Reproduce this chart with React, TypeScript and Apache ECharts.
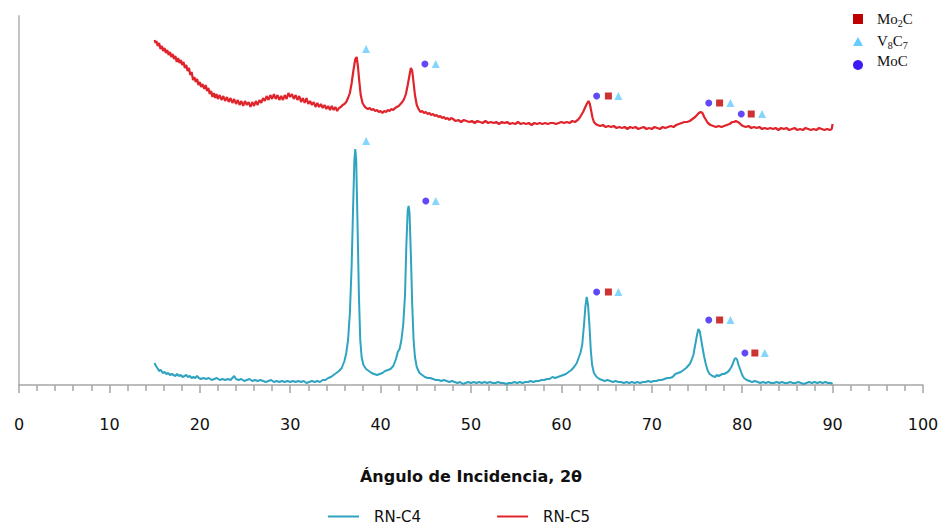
import React, { useEffect, useRef } from "react";
import * as echarts from "echarts";

const xTicks = [0, 10, 20, 30, 40, 50, 60, 70, 80, 90, 100];

const c4Data: [number, number][] = [
  [15.0,22],[15.15,19],[15.3,17],[15.5,14],[15.7,15],[15.9,12],[16.1,13],[16.3,11],[16.5,12],[16.7,10],[16.9,11],[17.1,10],[17.3,9],[17.5,11],[17.7,9],[17.9,10],[18.1,8],[18.3,9],[18.5,10],[18.7,8],[18.9,9],[19.1,7],[19.3,8],[19.5,7],[19.7,9],[19.9,7],[20.1,6],[20.4,7],[20.7,6],[21.0,7],[21.3,5],[21.6,6],[21.9,7],[22.2,5],[22.5,6],[22.8,5],[23.1,6],[23.4,5],[23.6,7],[23.8,9],[24.0,6],[24.3,5],[24.6,6],[24.9,4],[25.2,5],[25.5,6],[25.8,4],[26.1,5],[26.4,4],[26.7,5],[27.0,4],[27.3,3],[27.6,4],[27.9,5],[28.2,3],[28.5,4],[28.8,3],[29.1,4],[29.4,3],[29.7,4],[30.0,3],[30.3,4],[30.6,3],[30.9,4],[31.2,3],[31.5,4],[31.8,2],[32.1,3],[32.4,4],[32.7,3],[33.0,4],[33.3,3],[33.6,5],[33.9,5],[34.2,7],[34.5,8],[34.8,10],[35.1,12],[35.4,14],[35.7,17],[36.0,24],[36.2,32],[36.4,45],[36.6,72],[36.8,120],[36.95,175],[37.1,225],[37.2,236],[37.3,225],[37.45,160],[37.6,90],[37.75,45],[37.9,28],[38.1,20],[38.4,16],[38.7,14],[39.0,12],[39.3,11],[39.6,10],[39.9,11],[40.2,12],[40.5,14],[40.8,15],[41.1,16],[41.4,19],[41.7,26],[41.9,33],[42.1,36],[42.3,45],[42.5,60],[42.7,90],[42.85,140],[43.0,175],[43.1,179],[43.2,172],[43.35,130],[43.5,80],[43.65,45],[43.8,28],[44.0,18],[44.3,12],[44.6,10],[44.9,8],[45.2,7],[45.5,7],[45.8,6],[46.1,5],[46.4,5],[46.7,4],[47.0,5],[47.3,4],[47.6,3],[47.9,4],[48.2,3],[48.5,2],[48.8,3],[49.1,1],[49.4,2],[49.7,3],[50.0,2],[50.3,3],[50.6,2],[50.9,3],[51.2,2],[51.5,3],[51.8,2],[52.1,3],[52.4,2],[52.7,2],[53.0,3],[53.3,2],[53.6,2],[53.9,1],[54.2,2],[54.5,2],[54.8,3],[55.1,2],[55.4,3],[55.7,2],[56.0,3],[56.3,3],[56.6,4],[56.9,3],[57.2,4],[57.5,4],[57.8,5],[58.1,5],[58.4,6],[58.7,6],[59.0,8],[59.3,7],[59.6,8],[59.9,9],[60.2,10],[60.5,11],[60.8,13],[61.1,15],[61.4,18],[61.7,22],[61.9,27],[62.1,32],[62.3,40],[62.5,60],[62.65,78],[62.8,88],[62.95,80],[63.1,60],[63.25,35],[63.4,20],[63.6,12],[63.9,8],[64.2,6],[64.5,5],[64.8,4],[65.1,5],[65.4,4],[65.7,3],[66.0,4],[66.3,3],[66.6,3],[66.9,2],[67.2,3],[67.5,2],[67.8,3],[68.1,2],[68.4,3],[68.7,2],[69.0,3],[69.3,3],[69.6,4],[69.9,3],[70.2,4],[70.5,4],[70.8,5],[71.1,5],[71.4,6],[71.7,7],[72.0,7],[72.3,8],[72.6,11],[72.9,12],[73.2,13],[73.5,15],[73.8,17],[74.0,19],[74.2,21],[74.4,25],[74.6,30],[74.8,40],[75.0,50],[75.15,56],[75.3,54],[75.45,46],[75.6,38],[75.8,28],[76.0,20],[76.2,14],[76.4,11],[76.7,9],[77.0,8],[77.2,10],[77.4,9],[77.6,10],[77.8,11],[78.0,11],[78.2,12],[78.4,13],[78.6,15],[78.8,18],[79.0,22],[79.15,26],[79.3,27],[79.45,25],[79.6,20],[79.8,15],[80.0,10],[80.2,7],[80.5,5],[80.8,4],[81.1,3],[81.4,4],[81.7,3],[82.0,2],[82.3,3],[82.6,2],[82.9,3],[83.2,2],[83.5,2],[83.8,3],[84.1,2],[84.4,3],[84.7,2],[85.0,2],[85.3,3],[85.6,2],[85.9,2],[86.2,3],[86.5,2],[86.8,1],[87.1,2],[87.4,3],[87.7,2],[88.0,3],[88.3,2],[88.6,3],[88.9,2],[89.2,3],[89.5,2],[89.8,2],[90.0,1]
];

const c5Data: [number, number][] = [
  [15.0,345],[15.1,342],[15.2,344],[15.35,339],[15.5,342],[15.65,336],[15.8,339],[15.95,334],[16.1,337],[16.25,332],[16.4,335],[16.55,330],[16.7,333],[16.85,328],[17.0,331],[17.15,326],[17.3,329],[17.45,323],[17.6,327],[17.75,322],[17.9,325],[18.05,320],[18.2,323],[18.35,317],[18.5,320],[18.65,314],[18.8,317],[18.95,310],[19.1,313],[19.25,305],[19.4,308],[19.55,303],[19.7,306],[19.85,300],[20.0,303],[20.15,298],[20.3,301],[20.5,296],[20.65,300],[20.8,294],[20.95,297],[21.1,291],[21.25,294],[21.4,288],[21.55,292],[21.7,287],[21.85,291],[22.0,286],[22.2,290],[22.4,285],[22.6,289],[22.8,284],[23.0,288],[23.2,283],[23.4,287],[23.6,282],[23.8,286],[24.0,281],[24.2,285],[24.4,280],[24.6,284],[24.8,279],[25.0,284],[25.2,280],[25.4,283],[25.6,278],[25.8,283],[26.0,279],[26.2,284],[26.4,280],[26.6,285],[26.8,282],[27.0,287],[27.2,284],[27.4,289],[27.6,285],[27.8,290],[28.0,286],[28.2,291],[28.4,286],[28.6,290],[28.8,285],[29.0,289],[29.2,285],[29.4,290],[29.6,286],[29.8,292],[30.0,288],[30.2,291],[30.4,286],[30.6,290],[30.8,285],[31.0,289],[31.2,283],[31.4,287],[31.6,282],[31.8,287],[32.0,281],[32.2,284],[32.4,280],[32.6,283],[32.8,278],[33.0,282],[33.2,278],[33.4,281],[33.6,277],[33.8,280],[34.0,276],[34.2,279],[34.4,275],[34.6,279],[34.8,275],[35.0,278],[35.2,274],[35.4,277],[35.6,278],[35.8,280],[36.0,281],[36.2,283],[36.4,287],[36.6,292],[36.8,302],[37.0,315],[37.2,326],[37.35,328],[37.5,318],[37.65,303],[37.8,290],[38.0,282],[38.2,279],[38.4,277],[38.6,276],[38.8,277],[39.0,275],[39.2,276],[39.4,274],[39.6,275],[39.8,273],[40.0,274],[40.2,272],[40.4,274],[40.6,273],[40.8,275],[41.0,274],[41.2,276],[41.4,275],[41.6,277],[41.8,278],[42.0,279],[42.2,281],[42.4,283],[42.6,286],[42.8,291],[43.0,300],[43.2,310],[43.35,317],[43.5,314],[43.65,302],[43.8,290],[44.0,280],[44.2,276],[44.4,273],[44.6,274],[44.8,272],[45.0,273],[45.2,271],[45.4,272],[45.6,270],[45.8,271],[46.0,269],[46.2,270],[46.4,268],[46.6,269],[46.8,267],[47.0,268],[47.2,266],[47.4,267],[47.6,265],[47.8,267],[48.0,266],[48.3,264],[48.6,265],[48.9,263],[49.2,265],[49.5,264],[49.8,263],[50.1,264],[50.4,262],[50.7,264],[51.0,263],[51.3,262],[51.6,264],[51.9,262],[52.2,263],[52.5,262],[52.8,263],[53.1,261],[53.4,263],[53.7,262],[54.0,263],[54.3,261],[54.6,262],[54.9,261],[55.2,263],[55.5,261],[55.8,262],[56.1,261],[56.4,262],[56.7,260],[57.0,262],[57.3,261],[57.6,262],[57.9,261],[58.2,262],[58.5,261],[58.8,262],[59.1,262],[59.4,261],[59.7,262],[60.0,263],[60.3,262],[60.6,263],[60.9,262],[61.2,264],[61.5,263],[61.8,265],[62.0,267],[62.2,270],[62.4,273],[62.6,277],[62.8,281],[63.0,284],[63.15,281],[63.3,274],[63.45,267],[63.6,263],[63.8,261],[64.0,260],[64.3,259],[64.6,260],[64.9,258],[65.2,259],[65.5,258],[65.8,259],[66.1,257],[66.4,258],[66.7,257],[67.0,258],[67.3,256],[67.6,258],[67.9,257],[68.2,258],[68.5,256],[68.8,257],[69.1,258],[69.4,256],[69.7,257],[70.0,256],[70.3,258],[70.6,257],[70.9,256],[71.2,258],[71.5,257],[71.8,258],[72.1,259],[72.4,258],[72.7,260],[73.0,261],[73.3,262],[73.6,263],[73.9,263],[74.2,264],[74.5,266],[74.8,268],[75.0,270],[75.2,272],[75.4,273],[75.6,272],[75.8,268],[76.0,265],[76.2,262],[76.5,260],[76.8,259],[77.1,258],[77.4,259],[77.7,258],[78.0,259],[78.3,260],[78.6,261],[78.9,263],[79.1,263],[79.3,264],[79.5,263],[79.7,262],[79.9,260],[80.1,259],[80.4,258],[80.7,259],[81.0,257],[81.3,258],[81.6,257],[81.9,258],[82.2,256],[82.5,257],[82.8,256],[83.1,257],[83.4,256],[83.7,257],[84.0,255],[84.3,257],[84.6,256],[84.9,257],[85.2,255],[85.5,256],[85.8,257],[86.1,255],[86.4,256],[86.7,255],[87.0,257],[87.3,256],[87.6,255],[87.9,256],[88.2,255],[88.5,257],[88.8,256],[89.1,255],[89.4,256],[89.7,255],[89.9,256],[90.0,261]
];

const mocPoints: [number, number][] = [
  [44.9,321],[63.9,289],[76.3,282],[79.9,271],[45.0,184],[63.9,93],[76.3,65],[80.3,32]
];
const mo2cPoints: [number, number][] = [
  [65.2,289],[77.5,282],[81.0,271],[65.2,93],[77.5,65],[81.4,32]
];
const v8c7Points: [number, number][] = [
  [38.4,336],[46.1,321],[66.3,289],[78.7,282],[82.2,271],[38.4,244],[46.1,184],[66.3,93],[78.7,65],[82.5,32]
];

const seriesNames = ["RN-C4", "RN-C5"];
const xAxisTitle = "Ángulo de Incidencia, 2θ";

const TEAL = "#2fa4c0";
const RED = "#e0242c";
const SQ = "#c00000";
const TRI = "#66ccff";
const CIRC = "#3b1cf5";

export default function App() {
  const ref = useRef<HTMLDivElement>(null);
  useEffect(() => {
    if (!ref.current) return;
    const chart = echarts.init(ref.current, null, { renderer: "svg" });
    const sansFont = "DejaVu Sans";
    const serif = "Liberation Serif";
    chart.setOption({
      animation: false,
      backgroundColor: "#ffffff",
      grid: { left: 19, right: 19, top: 16, bottom: 140, containLabel: false },
      xAxis: {
        type: "value",
        min: xTicks[0],
        max: xTicks[xTicks.length - 1],
        interval: 10,
        name: xAxisTitle,
        nameLocation: "middle",
        nameGap: 83,
        nameTextStyle: { fontFamily: sansFont, fontWeight: "bold", fontSize: 16, color: "#111" },
        axisLine: { lineStyle: { color: "#a6a6a6", width: 1.5 } },
        axisTick: { show: true, length: 8, lineStyle: { color: "#a6a6a6", width: 1.5 } },
        minorTick: { show: true, splitNumber: 5, length: 6, lineStyle: { color: "#a6a6a6", width: 1.5 } },
        axisLabel: { margin: 31, fontFamily: sansFont, fontSize: 16, color: "#111" },
        splitLine: { show: false },
      },
      yAxis: {
        type: "value",
        min: 0,
        max: 369,
        axisLine: { show: true, lineStyle: { color: "#c4c4c4", width: 2 } },
        axisTick: { show: false },
        axisLabel: { show: false },
        splitLine: { show: false },
      },
      legend: {
        data: seriesNames,
        left: 328,
        top: 509,
        padding: 0,
        icon: "rect",
        itemWidth: 31,
        itemHeight: 2,
        itemGap: 76,
        textStyle: { fontFamily: sansFont, fontSize: 15, color: "#111", padding: [0, 0, 0, 10] },
      },
      series: [
        {
          name: seriesNames[0],
          type: "line",
          data: c4Data,
          showSymbol: false,
          symbol: "none",
          lineStyle: { color: TEAL, width: 2 },
          itemStyle: { color: TEAL },
          z: 2,
        },
        {
          name: seriesNames[1],
          type: "line",
          data: c5Data,
          showSymbol: false,
          symbol: "none",
          lineStyle: { color: RED, width: 2.2 },
          itemStyle: { color: RED },
          z: 2,
        },
        {
          name: "MoC",
          type: "scatter",
          data: mocPoints,
          symbol: "circle",
          symbolSize: 7,
          itemStyle: { color: CIRC },
          z: 3,
        },
        {
          name: "Mo2C",
          type: "scatter",
          data: mo2cPoints,
          symbol: "rect",
          symbolSize: 7,
          itemStyle: { color: SQ },
          z: 3,
        },
        {
          name: "V8C7",
          type: "scatter",
          data: v8c7Points,
          symbol: "triangle",
          symbolSize: 8,
          itemStyle: { color: TRI },
          z: 3,
        },
      ],
      graphic: [
        { type: "rect", shape: { x: 853, y: 14, width: 10, height: 10 }, style: { fill: SQ } },
        { type: "polygon", shape: { points: [[858, 37], [863, 46], [853, 46]] }, style: { fill: TRI } },
        { type: "circle", shape: { cx: 858, cy: 65, r: 5 }, style: { fill: CIRC } },
        {
          type: "text",
          x: 877,
          y: 19,
          style: {
            text: "{a|Mo}{s|2}{a|C}",
            verticalAlign: "middle",
            rich: {
              a: { fontFamily: serif, fontSize: 15, lineHeight: 18, fill: "#111" },
              s: { fontFamily: serif, fontSize: 10, lineHeight: 10, verticalAlign: "bottom", fill: "#111" },
            },
          },
        },
        {
          type: "text",
          x: 877,
          y: 41,
          style: {
            text: "{a|V}{s|8}{a|C}{s|7}",
            verticalAlign: "middle",
            rich: {
              a: { fontFamily: serif, fontSize: 15, lineHeight: 18, fill: "#111" },
              s: { fontFamily: serif, fontSize: 10, lineHeight: 10, verticalAlign: "bottom", fill: "#111" },
            },
          },
        },
        {
          type: "text",
          x: 877,
          y: 61,
          style: { text: "MoC", fontFamily: serif, fontSize: 15, fill: "#111", verticalAlign: "middle" },
        },
      ],
    });
    return () => chart.dispose();
  }, []);
  return <div ref={ref} style={{ width: 942, height: 525, position: "absolute", left: 0, top: 0 }} />;
}
